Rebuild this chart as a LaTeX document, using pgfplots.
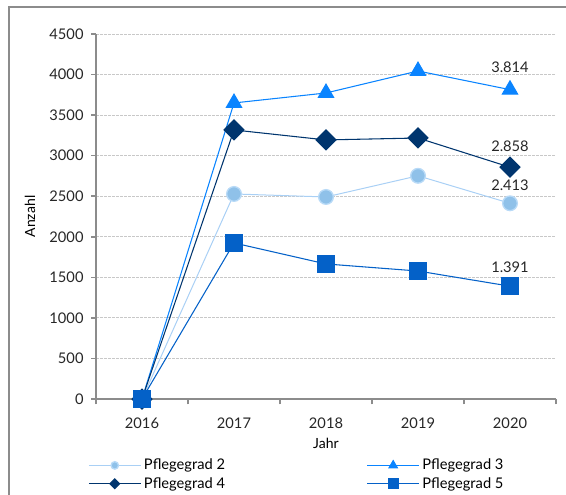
\documentclass[border=0pt]{standalone}
\usepackage{pgfplots}
\pgfplotsset{compat=1.18}
\usepackage{fontspec}
\setmainfont{Lato}

\definecolor{pgzwei}{HTML}{8FC1E9}
\definecolor{pgzweiline}{HTML}{A9D0F5}
\definecolor{pgzweiedge}{HTML}{B8DAF7}
\definecolor{pgdrei}{HTML}{0A84FF}
\definecolor{pgvier}{HTML}{00356E}
\definecolor{pgfuenf}{HTML}{0461C8}
\definecolor{gridgray}{HTML}{C8C8C8}
\definecolor{axisgray}{HTML}{8C8C8C}

\begin{document}
\fontsize{11}{13}\selectfont
\begin{tikzpicture}
% page = 566 x 494 px, 1 px = 0.75pt, axis origin at px (96,399)
\useasboundingbox (-72pt,-71.25pt) rectangle (352.5pt,299.25pt);
\draw[axisgray, line width=1.4pt] (-65.25pt,-80pt) -- (-65.25pt,294pt) -- (360pt,294pt);

\begin{axis}[
    at={(0,0)}, anchor=south west,
    scale only axis,
    width=345pt, height=273.75pt,
    xmin=-0.5, xmax=4.5,
    ymin=0, ymax=4500,
    axis x line*=bottom, axis y line*=left,
    axis line style={-, axisgray, line width=1.2pt},
    xtick={0,1,2,3,4},
    xticklabels={2016,2017,2018,2019,2020},
    minor xtick={-0.5,0.5,1.5,2.5,3.5,4.5},
    major x tick style={draw=none},
    minor x tick style={axisgray, line width=1.2pt},
    minor tick length=4pt,
    ytick={0,500,...,4500},
    y tick style={axisgray, line width=1.2pt},
    major tick length=3.5pt,
    tick align=outside,
    ymajorgrids,
    grid style={gridgray, dash pattern=on 2pt off 1pt, line width=0.6pt},
    /pgf/number format/assume math mode=true,
    yticklabel style={/pgf/number format/1000 sep={}, xshift=-2pt},
    xticklabel style={yshift=-6.5pt},
    ticklabel style={font=\fontsize{11}{13}\selectfont, text=black!85},
    xlabel={Jahr},
    ylabel={Anzahl},
    xlabel style={at={(axis description cs:0.5,-0.1205)}, anchor=center},
    ylabel style={at={(axis description cs:-0.1435,0.5)}, anchor=center},
    label style={font=\fontsize{10.5}{12}\selectfont},
    clip=false,
    point meta=explicit symbolic,
    nodes near coords={\pgfplotspointmeta},
    every node near coord/.append style={text=black!85, anchor=center,
        font=\fontsize{11}{13}\selectfont},
    legend columns=2,
    legend cell align=left,
    legend style={at={(axis description cs:-0.0174,-0.156)}, anchor=north west,
        draw=none, fill=none, inner sep=0pt, row sep=0pt,
        font=\fontsize{11}{13}\selectfont},
    legend image code/.code={
        \draw[mark repeat=2, mark phase=2]
        plot coordinates {(0pt,0pt) (19.5pt,0pt) (39pt,0pt)};},
]

\addplot[pgzweiline, line width=0.75pt, mark=*, mark size=5.5pt,
    mark options={fill=pgzwei, draw=pgzweiedge, line width=1pt},
    legend image post style={mark size=2.8pt},
    every node near coord/.append style={yshift=13.5pt}]
    coordinates {(0,0)[] (1,2528)[] (2,2491)[] (3,2752)[] (4,2413)[2.413]};
\addlegendentry{\makebox[165pt][l]{Pflegegrad 2}}

\addplot[pgdrei, line width=0.8pt, mark=triangle*, mark size=6.6pt,
    mark options={fill=pgdrei, draw=pgdrei},
    legend image post style={mark size=3.6pt},
    every node near coord/.append style={yshift=16.5pt}]
    coordinates {(0,0)[] (1,3650)[] (2,3773)[] (3,4044)[] (4,3814)[3.814]};
\addlegendentry{Pflegegrad 3}

\addplot[pgvier, line width=0.8pt, mark=square*, mark size=5.3pt,
    mark options={fill=pgvier, draw=pgvier, rotate=45},
    legend image post style={mark size=2.6pt},
    every node near coord/.append style={yshift=15.75pt}]
    coordinates {(0,0)[] (1,3317)[] (2,3194)[] (3,3218)[] (4,2858)[2.858]};
\addlegendentry{Pflegegrad 4}

\addplot[pgfuenf, line width=0.8pt, mark=square*, mark size=6.2pt,
    mark options={fill=pgfuenf, draw=pgfuenf},
    legend image post style={mark size=3.6pt},
    every node near coord/.append style={yshift=14.25pt}]
    coordinates {(0,0)[] (1,1924)[] (2,1665)[] (3,1578)[] (4,1391)[1.391]};
\addlegendentry{Pflegegrad 5}

\end{axis}
\end{tikzpicture}
\end{document}
